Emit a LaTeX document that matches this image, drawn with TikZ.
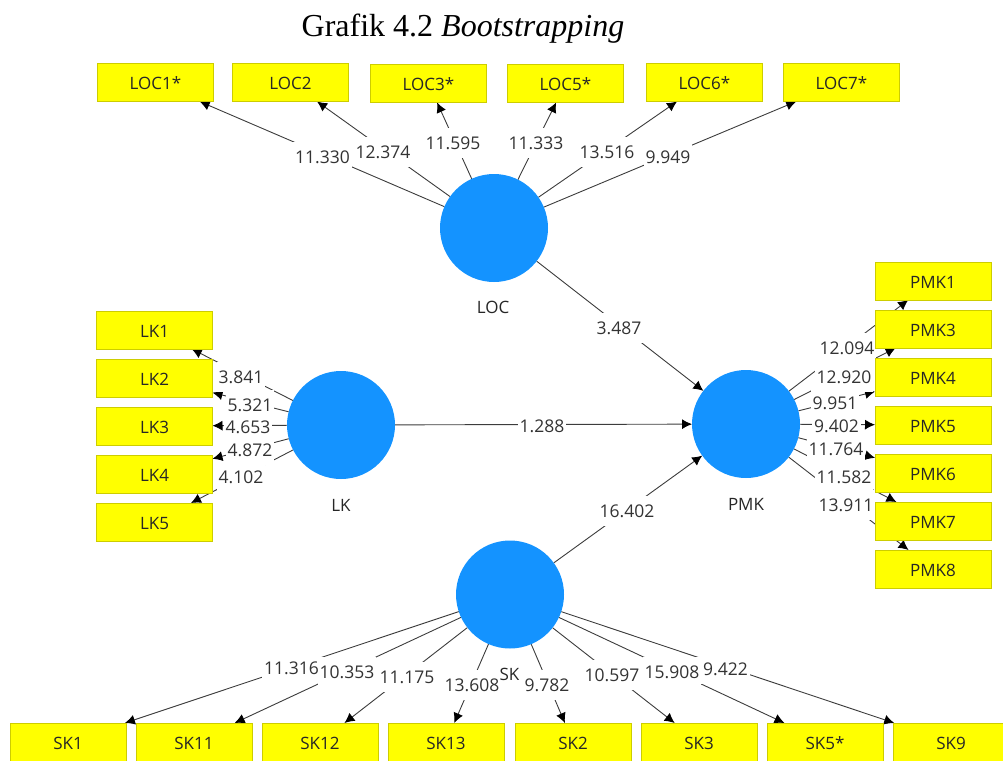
\documentclass[tikz,border=0pt]{standalone}
\usepackage{fontspec}
\setmainfont{Open Sans}
\newfontfamily\titlefont{Liberation Serif}
\usetikzlibrary{arrows.meta,backgrounds}
\definecolor{yellowedge}{RGB}{205,205,0}
\definecolor{boxyellow}{RGB}{255,255,0}
\definecolor{lvblue}{RGB}{20,147,255}
\definecolor{linegray}{RGB}{60,60,60}
\tikzset{
  ind/.style={rectangle,fill=boxyellow,draw=yellowedge,line width=0.8pt,minimum width=116pt,minimum height=38pt,inner sep=0pt,outer sep=0pt,text=black!85,text height=14pt,text depth=0pt,font=\fontsize{17}{19}\selectfont},
  lv/.style={circle,fill=lvblue,draw=none,minimum size=#1,inner sep=0pt,outer sep=0pt},
  lvname/.style={text=black!85,inner sep=0pt,font=\fontsize{17}{19}\selectfont},
  conn/.style={draw=linegray,line width=0.9pt,-{Latex[length=10pt,width=10pt,color=black]}},
  val/.style={fill=white,text=black!80,inner xsep=2pt,inner ysep=0pt,minimum height=30pt,font=\fontsize{17.5}{19}\selectfont}
}
\begin{document}
\begin{tikzpicture}[x=1pt,y=-1pt]
\useasboundingbox (0,0) rectangle (1003,760);
\clip (0,0) rectangle (1003,760);
\node[inner sep=0pt,font=\titlefont\fontsize{32}{35}\selectfont] (title) at (463,28.5) {Grafik 4.2 \textit{Bootstrapping}};
% latent variables
\node[lv=108pt] (LOC) at (494,228) {};
\node[lv=108pt] (LK) at (341,425) {};
\node[lv=108pt] (PMK) at (746,424) {};
\node[lv=108pt] (SK) at (510,594.5) {};
\node[lvname] (LOCn) at (493,307) {LOC};
\node[lvname] (LKn) at (341,505) {LK};
\node[lvname] (PMKn) at (746,504) {PMK};
% indicators
\node[ind] (LOC1) at (155.5,82.5) {LOC1*};
\node[ind] (LOC2) at (290.5,82.5) {LOC2};
\node[ind] (LOC3) at (428.5,83.5) {LOC3*};
\node[ind] (LOC5) at (565.5,83.5) {LOC5*};
\node[ind] (LOC6) at (704.5,82.5) {LOC6*};
\node[ind] (LOC7) at (841.5,82.5) {LOC7*};
\node[ind] (LK1) at (154.5,330) {LK1};
\node[ind] (LK2) at (154.5,378) {LK2};
\node[ind] (LK3) at (154.5,426) {LK3};
\node[ind] (LK4) at (154.5,474) {LK4};
\node[ind] (LK5) at (154.5,522) {LK5};
\node[ind] (PMK1) at (933,281) {PMK1};
\node[ind] (PMK3) at (933,329) {PMK3};
\node[ind] (PMK4) at (933,377) {PMK4};
\node[ind] (PMK5) at (933,425) {PMK5};
\node[ind] (PMK6) at (933,473) {PMK6};
\node[ind] (PMK7) at (933,521) {PMK7};
\node[ind] (PMK8) at (933,569) {PMK8};
\node[ind] (SK1) at (68,742) {SK1};
\node[ind] (SK11) at (194,742) {SK11};
\node[ind] (SK12) at (320,742) {SK12};
\node[ind] (SK13) at (446,742) {SK13};
\node[ind] (SK2) at (573,742) {SK2};
\node[ind] (SK3) at (699,742) {SK3};
\node[ind] (SK5) at (825,742) {SK5*};
\node[ind] (SK9) at (951,742) {SK9};
\node[lvname] (SKn) at (509.5,674) {SK};
\begin{pgfonlayer}{background}
\foreach \a in {LOC1,LOC2,LOC3,LOC5,LOC6,LOC7} \draw[conn] (LOC) -- (\a);
\foreach \a in {LK1,LK2,LK3,LK4,LK5} \draw[conn] (LK) -- (\a);
\foreach \a in {PMK1,PMK3,PMK4,PMK5,PMK6,PMK7,PMK8} \draw[conn] (PMK) -- (\a);
\foreach \a in {SK1,SK11,SK12,SK13,SK2,SK3,SK5,SK9} \draw[conn] (SK) -- (\a);
\draw[conn] (LOC) -- (PMK);
\draw[conn] (LK) -- (PMK);
\draw[conn] (SK) -- (PMK);
\node[val] (v1) at (322.5,157) {11.330};
\node[val] (v2) at (383,152) {12.374};
\node[val] (v3) at (453,143) {11.595};
\node[val] (v4) at (536,143) {11.333};
\node[val] (v5) at (607,152) {13.516};
\node[val] (v6) at (668,157) {9.949};
\node[val] (v7) at (619,328) {3.487};
\node[val] (v8) at (542,426) {1.288};
\node[val] (v9) at (627,511) {16.402};
\node[val] (v10) at (241,377) {3.841};
\node[val] (v11) at (250,405) {5.321};
\node[val] (v12) at (248,427) {4.653};
\node[val] (v13) at (250,450) {4.872};
\node[val] (v14) at (241,477) {4.102};
\node[val] (v15) at (847,348) {12.094};
\node[val] (v16) at (844,377) {12.920};
\node[val] (v17) at (835,403) {9.951};
\node[val] (v18) at (836.5,426) {9.402};
\node[val] (v19) at (836,449) {11.764};
\node[val] (v20) at (844,477) {11.582};
\node[val] (v21) at (846,505) {13.911};
\node[val] (v22) at (291.5,668) {11.316};
\node[val] (v23) at (347,672) {10.353};
\node[val] (v24) at (407,677) {11.175};
\node[val] (v25) at (472,685) {13.608};
\node[val] (v26) at (547,685) {9.782};
\node[val] (v27) at (612,675) {10.597};
\node[val] (v28) at (672,672) {15.908};
\node[val] (v29) at (725.5,669) {9.422};
\end{pgfonlayer}
\end{tikzpicture}
\end{document}
